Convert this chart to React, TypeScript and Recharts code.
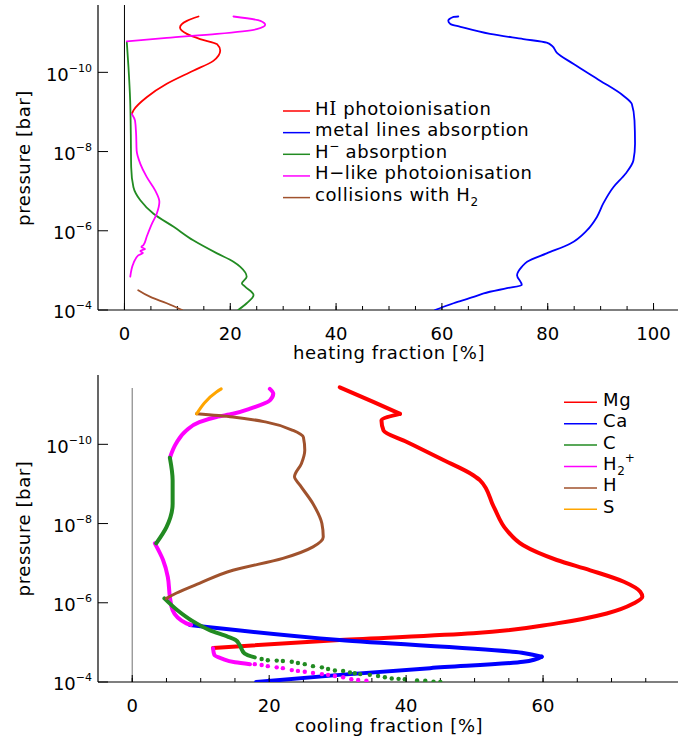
import React from 'react';
import { ScatterChart, Scatter, XAxis, YAxis, ReferenceLine } from 'recharts';

type P = [number, number];

// x: fraction in %, y: log10(pressure / bar)

// ---------- heating panel ----------
const HEAT_X_TICKS = [0, 5, 10, 15, 20, 25, 30, 35, 40, 45, 50, 55, 60, 65, 70, 75, 80, 85, 90, 95, 100];
// "_x" = subscript, "^x" = superscript
const HEAT_NAMES = ['HI photoionisation', 'metal lines absorption', 'H^\u2212 absorption', 'H\u2212like photoionisation', 'collisions with H_2'];
const HEAT_COLORS = ['#ff0000', '#0000ff', '#228b22', '#ff00ff', '#a0522d'];

const HI_PHOTO: P[] = [[14.0, -11.41], [11.8, -11.3], [10.5, -11.13], [11.8, -10.97], [14.3, -10.84], [17.5, -10.71], [18.1, -10.55], [16.8, -10.29], [13.0, -10.04], [8.0, -9.71], [4.2, -9.37], [1.7, -9.04], [1.4, -8.95]];
const METAL: P[] = [[63.1, -11.41], [62.2, -11.4], [61.2, -11.3], [61.6, -11.22], [63.5, -11.15], [69.1, -10.97], [75.4, -10.84], [79.8, -10.75], [80.8, -10.67], [81.7, -10.5], [84.9, -10.21], [89.9, -9.79], [94.3, -9.41], [95.9, -9.2], [96.4, -8.78], [96.5, -8.2], [96.2, -7.78], [94.7, -7.44], [92.4, -7.1], [90.5, -6.69], [89.3, -6.35], [87.4, -6.01], [84.3, -5.68], [79.8, -5.43], [76.1, -5.22], [75.1, -5.09], [74.2, -4.88], [75.1, -4.63], [72.3, -4.55], [67.9, -4.42], [66.0, -4.33], [62.2, -4.17], [58.7, -4.0]];
const H_MINUS: P[] = [[0.45, -10.75], [0.76, -10.13], [1.08, -9.29], [1.2, -8.45], [1.27, -7.61], [1.7, -7.1], [3.0, -6.77], [5.5, -6.43], [9.3, -6.1], [13.0, -5.76], [17.5, -5.43], [20.6, -5.22], [21.9, -5.09], [23.1, -4.84], [22.2, -4.67], [22.8, -4.59], [24.4, -4.38], [23.1, -4.17], [21.5, -4.0]];
const HLIKE_UPPER: P[] = [[20.6, -11.41], [25.7, -11.3], [26.6, -11.2], [25.0, -11.09], [17.5, -10.97], [8.0, -10.87], [0.45, -10.78]];
const HLIKE_LOWER: P[] = [[1.4, -8.95], [2.0, -8.78], [2.2, -8.45], [2.3, -8.03], [3.0, -7.69], [4.2, -7.36], [5.8, -7.02], [6.6, -6.73], [6.1, -6.43], [5.2, -6.18], [4.2, -5.85], [3.6, -5.64], [3.2, -5.59], [3.9, -5.54], [3.0, -5.49], [3.5, -5.44], [2.6, -5.38], [1.7, -5.18], [1.1, -4.84]];
const H2_COLL: P[] = [[2.6, -4.5], [4.9, -4.33], [8.0, -4.17], [10.9, -4.0]];

// ---------- cooling panel ----------
const COOL_X_TICKS = [0, 5, 10, 15, 20, 25, 30, 35, 40, 45, 50, 55, 60, 65, 70, 75];
const COOL_NAMES = ['Mg', 'Ca', 'C', 'H_2^+', 'H', 'S'];
const COOL_COLORS = ['#ff0000', '#0000ff', '#228b22', '#ff00ff', '#a0522d', '#ffa500'];

const MG: P[] = [[30.3, -11.44], [35.2, -11.07], [39.1, -10.77], [36.4, -10.6], [36.7, -10.35], [40.1, -10.06], [45.0, -9.64], [49.8, -9.22], [50.8, -9.09], [52.8, -8.42], [54.7, -7.83], [57.1, -7.45], [62.0, -7.08], [66.9, -6.82], [71.8, -6.53], [74.2, -6.28], [74.5, -6.15], [73.2, -5.98], [69.3, -5.73], [62.0, -5.48], [49.8, -5.23], [30.3, -5.06], [11.8, -4.86]];
const CA: P[] = [[8.4, -5.44], [30.3, -5.06], [56.9, -4.74], [59.8, -4.64], [57.1, -4.51], [43.5, -4.35], [30.3, -4.18], [18.1, -4.0]];
const C_UPPER: P[] = [[5.5, -9.66], [5.9, -9.09], [5.9, -8.5], [5.0, -7.91], [3.5, -7.5]];
const C_LOWER: P[] = [[4.7, -6.11], [6.6, -5.81], [8.6, -5.56], [11.3, -5.31], [14.0, -5.14], [15.1, -5.06], [15.7, -4.93], [16.4, -4.72], [17.9, -4.62]];
const C_DOTS: P[] = [[18.9, -4.58], [19.8, -4.55], [21.1, -4.54], [22.0, -4.53], [23.3, -4.51], [24.2, -4.48], [25.2, -4.45], [26.4, -4.4], [27.7, -4.37], [28.6, -4.33], [29.6, -4.29], [30.8, -4.28], [31.8, -4.24], [32.5, -4.22], [33.3, -4.2], [34.7, -4.18], [35.9, -4.15], [36.9, -4.12], [37.9, -4.09], [38.9, -4.08], [39.8, -4.07], [41.6, -4.04], [42.8, -4.03], [44.0, -4.01], [45.0, -4.0]];
const H2P_UPPER: P[] = [[20.1, -11.4], [20.6, -11.28], [20.1, -11.11], [17.2, -10.9], [14.7, -10.77], [12.3, -10.69], [9.8, -10.56], [7.9, -10.35], [6.4, -10.02], [5.5, -9.66]];
const H2P_MID: P[] = [[3.3, -7.5], [4.5, -7.08], [5.2, -6.65], [5.5, -6.15], [5.9, -5.81], [7.9, -5.48], [8.6, -5.44]];
const H2P_LOWER: P[] = [[11.8, -4.85], [12.0, -4.68], [13.1, -4.59], [15.0, -4.5], [17.2, -4.45]];
const H2P_DOTS: P[] = [[17.9, -4.45], [18.9, -4.43], [19.8, -4.4], [21.1, -4.37], [22.0, -4.35], [23.3, -4.3], [24.2, -4.28], [25.2, -4.26], [26.4, -4.23], [27.7, -4.2], [28.6, -4.18], [29.6, -4.15], [30.8, -4.12], [32.0, -4.07], [33.0, -4.05], [34.2, -4.03]];
const H_LINE: P[] = [[9.4, -10.77], [14.7, -10.69], [19.6, -10.56], [23.5, -10.35], [25.0, -10.18], [25.2, -9.85], [24.7, -9.51], [23.7, -9.18], [24.5, -8.97], [26.4, -8.5], [27.7, -8.0], [27.9, -7.66], [26.4, -7.41], [22.0, -7.12], [14.7, -6.82], [9.8, -6.49], [6.4, -6.24], [5.0, -6.11]];
const S_LINE: P[] = [[13.0, -11.4], [12.3, -11.32], [9.4, -10.77]];

const Y_TICKS = [-10, -8, -6, -4];

const FONT = '"DejaVu Sans", sans-serif';
const AXIS_LINE = { stroke: '#000', strokeWidth: 1.2 };
const TICK_LINE = { stroke: '#000', strokeWidth: 1 };

const pts = (a: P[]) => a.map(([x, y]) => ({ x, y }));
const NoDot = () => <g />;
const dot = (color: string) => (p: any) => <circle cx={p.cx} cy={p.cy} r={2.2} fill={color} />;

// Tick marks point inward (negative tickSize, 4px); the tick components add the
// longer mark on multiples of 20 and the labels.
const BottomLabel = (props: any) => {
  const { x, y, payload } = props;
  if (payload.value % 20 !== 0) return <g />;
  const axisY = y - 30; // tickSize -4 + tickMargin 34
  return (
    <g>
      <line x1={x} x2={x} y1={axisY} y2={axisY - 7} stroke="#000" />
      <text x={x} y={y} textAnchor="middle" fontSize={18} fontFamily={FONT} fill="#000">
        {payload.value}
      </text>
    </g>
  );
};

const TopMark = (props: any) => {
  const { x, y, payload } = props;
  if (payload.value % 20 !== 0) return <g />;
  const axisY = y - 4; // tickSize -4, tickMargin 0
  return <line x1={x} x2={x} y1={axisY} y2={axisY + 7} stroke="#000" />;
};

const LeftLabel = (props: any) => {
  const { x, y, payload } = props;
  return (
    <text x={x} y={y + 8.3} textAnchor="end" fontSize={18} fontFamily={FONT} fill="#000">
      <tspan>10</tspan>
      <tspan dy={-9} fontSize={11}>{'\u2212' + Math.abs(payload.value)}</tspan>
    </text>
  );
};

const Empty = () => <g />;

function frame(xDomain: [number, number], xTicks: number[], yDomain: [number, number], xHeight: number) {
  const common = { type: 'number' as const, allowDataOverflow: true, interval: 0 as const, axisLine: AXIS_LINE, tickLine: TICK_LINE };
  return [
    <XAxis key="xb" dataKey="x" domain={xDomain} ticks={xTicks} tickSize={-4} tickMargin={34} tick={<BottomLabel />} height={xHeight} {...common} />,
    <XAxis key="xt" xAxisId="top" orientation="top" domain={xDomain} ticks={xTicks} tickSize={-4} tickMargin={0} tick={<TopMark />} height={0} {...common} />,
    <YAxis key="yl" dataKey="y" domain={yDomain} reversed ticks={Y_TICKS} tickSize={-10} tickMargin={16} tick={<LeftLabel />} width={98} {...common} />,
    <YAxis key="yr" yAxisId="right" orientation="right" domain={yDomain} reversed ticks={Y_TICKS} tickSize={-10} tick={<Empty />} width={0} {...common} />,
  ];
}

// every series is ordered by increasing pressure, so a y-monotone curve keeps its shape
const line = (data: P[], color: string, w: number, key: string) => (
  <Scatter
    key={key}
    data={pts(data)}
    fill={color}
    line={{ stroke: color, strokeWidth: w, strokeLinejoin: 'round', strokeLinecap: 'round' }}
    lineJointType="monotoneY"
    shape={NoDot}
    isAnimationActive={false}
  />
);

const dots = (data: P[], color: string, key: string) => (
  <Scatter key={key} data={pts(data)} fill={color} shape={dot(color)} isAnimationActive={false} />
);

// renders "H_2^+" style names with real sub/superscripts
const LegendLabel = ({ name }: { name: string }) => {
  const parts = name.split(/([_^].)/).filter(Boolean);
  let shift = 0;
  return (
    <>
      {parts.map((s, i) => {
        if (s.startsWith('HI')) {
          return (
            <React.Fragment key={i}>
              <tspan>H</tspan>
              <tspan fontFamily='"DejaVu Serif", serif'>I</tspan>
              <tspan>{s.slice(2)}</tspan>
            </React.Fragment>
          );
        }
        if (s[0] === '_' || s[0] === '^') {
          const target = s[0] === '_' ? 5 : -8;
          const dy = target - shift;
          shift = target;
          return <tspan key={i} dy={dy} fontSize={12} letterSpacing={0}>{s[1]}</tspan>;
        }
        const dy = -shift;
        shift = 0;
        return <tspan key={i} dy={dy}>{s}</tspan>;
      })}
    </>
  );
};

function Overlay(props: {
  height: number; xTitle: string; xTitleY: number; yTitleY: number;
  names: string[]; colors: string[]; lx1: number; lx2: number; tx: number; ly0: number; step: number;
}) {
  const { height, xTitle, xTitleY, yTitleY, names, colors, lx1, lx2, tx, ly0, step } = props;
  return (
    <svg width={678} height={height} style={{ position: 'absolute', left: 0, top: 0, pointerEvents: 'none' }}>
      <g fontFamily={FONT} fontSize={18} fill="#000" letterSpacing={0.6}>
        <text x={389} y={xTitleY} textAnchor="middle">{xTitle}</text>
        <text x={30} y={yTitleY} textAnchor="middle" transform={`rotate(-90 30 ${yTitleY})`}>pressure [bar]</text>
        {names.map((n, i) => (
          <g key={n}>
            <line x1={lx1} x2={lx2} y1={ly0 + i * step} y2={ly0 + i * step} stroke={colors[i]} strokeWidth={1.5} />
            <text x={tx} y={ly0 + i * step + 3.5}>
              <LegendLabel name={n} />
            </text>
          </g>
        ))}
      </g>
    </svg>
  );
}

export default function App() {
  return (
    <div style={{ position: 'absolute', left: 0, top: 0, width: 678, height: 746, overflow: 'hidden', background: '#fff' }}>
      <div style={{ position: 'absolute', left: 0, top: 0, width: 681, height: 370 }}>
        <ScatterChart width={681} height={370} margin={{ top: 5, right: 1, bottom: 0, left: 0 }}>
          {frame([-5, 105], HEAT_X_TICKS, [-11.7, -4], 60)}
          <ReferenceLine x={0} stroke="#000" strokeWidth={1} />
          {line(HI_PHOTO, HEAT_COLORS[0], 1.8, 'hi')}
          {line(METAL, HEAT_COLORS[1], 1.8, 'metal')}
          {line(H_MINUS, HEAT_COLORS[2], 1.8, 'hm')}
          {line(HLIKE_UPPER, HEAT_COLORS[3], 1.8, 'hl1')}
          {line(HLIKE_LOWER, HEAT_COLORS[3], 1.8, 'hl2')}
          {line(H2_COLL, HEAT_COLORS[4], 1.8, 'h2')}
        </ScatterChart>
        <Overlay height={370} xTitle="heating fraction [%]" xTitleY={359} yTitleY={158}
          names={HEAT_NAMES} colors={HEAT_COLORS} lx1={283} lx2={310} tx={315} ly0={111} step={21.65} />
      </div>
      <div style={{ position: 'absolute', left: 0, top: 370, width: 681, height: 376 }}>
        <ScatterChart width={681} height={376} margin={{ top: 5, right: 1, bottom: 0, left: 0 }}>
          {frame([-5, 80], COOL_X_TICKS, [-11.75, -4], 64)}
          <ReferenceLine segment={[{ x: 0, y: -11.42 }, { x: 0, y: -4 }]} stroke="#888" strokeWidth={1.2} />
          {line(MG.slice(0, 3), COOL_COLORS[0], 4, 'mg1')}
          {line(MG.slice(2), COOL_COLORS[0], 4, 'mg2')}
          {line(CA.slice(0, 4), COOL_COLORS[1], 4, 'ca1')}
          {line(CA.slice(3), COOL_COLORS[1], 4, 'ca2')}
          {line(H2P_UPPER, COOL_COLORS[3], 4, 'p1')}
          {line(H2P_MID, COOL_COLORS[3], 4, 'p2')}
          {line(H2P_LOWER, COOL_COLORS[3], 4, 'p3')}
          {dots(H2P_DOTS, COOL_COLORS[3], 'p4')}
          {line(C_UPPER, COOL_COLORS[2], 4, 'c1')}
          {line(C_LOWER, COOL_COLORS[2], 4, 'c2')}
          {dots(C_DOTS, COOL_COLORS[2], 'c3')}
          {line(H_LINE, COOL_COLORS[4], 3, 'h')}
          {line(S_LINE, COOL_COLORS[5], 3, 's')}
        </ScatterChart>
        <Overlay height={376} xTitle="cooling fraction [%]" xTitleY={362} yTitleY={158.5}
          names={COOL_NAMES} colors={COOL_COLORS} lx1={564} lx2={597} tx={603} ly0={32.3} step={21.4} />
      </div>
    </div>
  );
}
